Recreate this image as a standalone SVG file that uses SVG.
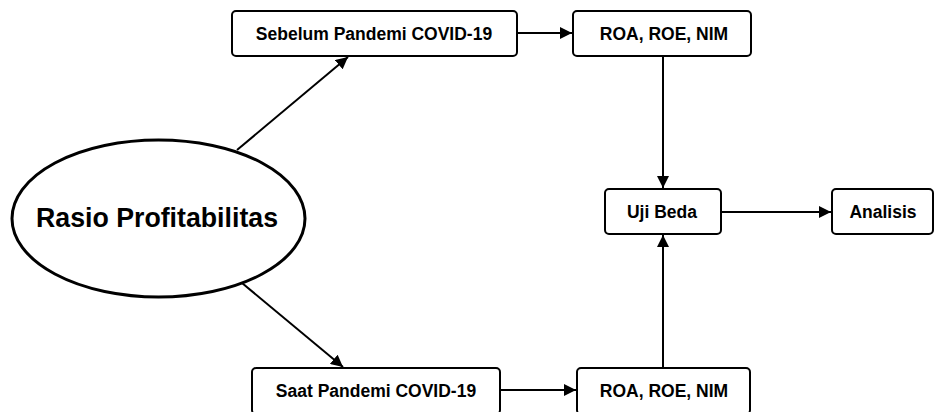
<svg xmlns="http://www.w3.org/2000/svg" width="936" height="412" viewBox="0 0 936 412">
<style>
.box{fill:#fff;stroke:#000;stroke-width:2}
.lbl{font-family:"Liberation Sans",Arial,sans-serif;font-weight:bold;font-size:17.5px;fill:#000;text-anchor:middle}
.big{font-family:"Liberation Sans",Arial,sans-serif;font-weight:bold;font-size:27px;fill:#000;text-anchor:middle}
.con{stroke:#000;stroke-width:2;fill:none;marker-end:url(#ah)}
</style>
<defs>
<marker id="ah" viewBox="0 0 10 10" refX="10" refY="5" markerWidth="6" markerHeight="6" markerUnits="strokeWidth" orient="auto">
<path d="M0,0 L10,5 L0,10 z" fill="#000"/>
</marker>
</defs>
<rect width="936" height="412" fill="#fff"/>
<g id="connectors">
<line class="con" x1="237" y1="150" x2="348" y2="57"/>
<line class="con" x1="242" y1="283" x2="343" y2="367"/>
<line class="con" x1="517" y1="33" x2="572" y2="33"/>
<line class="con" x1="500" y1="390" x2="576" y2="390"/>
<line class="con" x1="663" y1="56" x2="663" y2="188"/>
<line class="con" x1="663" y1="368" x2="663" y2="235"/>
<line class="con" x1="721" y1="212" x2="831" y2="212"/>
</g>
<g id="rasio">
<ellipse cx="158.5" cy="218.5" rx="146.5" ry="78.5" fill="#fff" stroke="#000" stroke-width="3"/>
<text class="big" x="157" y="227" textLength="242" lengthAdjust="spacingAndGlyphs">Rasio Profitabilitas</text>
</g>
<g id="sebelum">
<rect class="box" x="232" y="11" width="285" height="45" rx="4"/>
<text class="lbl" x="374" y="40">Sebelum Pandemi COVID-19</text>
</g>
<g id="roa1">
<rect class="box" x="573" y="11" width="178" height="45" rx="4"/>
<text class="lbl" x="664" y="40">ROA, ROE, NIM</text>
</g>
<g id="uji">
<rect class="box" x="605" y="189" width="116" height="45" rx="4"/>
<text class="lbl" x="662" y="218">Uji Beda</text>
</g>
<g id="analisis">
<rect class="box" x="832" y="189" width="101" height="45" rx="4"/>
<text class="lbl" x="883" y="218">Analisis</text>
</g>
<g id="saat">
<rect class="box" x="252" y="368" width="248" height="46" rx="4"/>
<text class="lbl" x="376" y="397">Saat Pandemi COVID-19</text>
</g>
<g id="roa2">
<rect class="box" x="577" y="368" width="173" height="46" rx="4"/>
<text class="lbl" x="664" y="397">ROA, ROE, NIM</text>
</g>
</svg>
